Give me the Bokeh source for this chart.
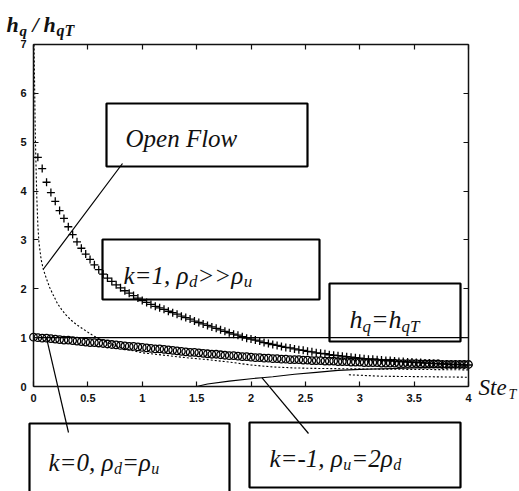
from bokeh.plotting import figure
from bokeh.models import (Range1d, LinearAxis, FixedTicker, NumeralTickFormatter,
                          CustomJSTickFormatter, BoxAnnotation, Label)
from bokeh.embed import file_html
from bokeh.resources import INLINE

# ---------------- data ----------------
plus_x = [0.04, 0.08, 0.12, 0.16, 0.20, 0.24, 0.28, 0.32, 0.36, 0.40,
          0.44, 0.48, 0.52, 0.56, 0.60, 0.64, 0.68, 0.72, 0.76, 0.80,
          0.84, 0.88, 0.92, 0.96, 1.00, 1.04, 1.08, 1.12, 1.16, 1.20,
          1.24, 1.28, 1.32, 1.36, 1.40, 1.44, 1.48, 1.52, 1.56, 1.60,
          1.64, 1.68, 1.72, 1.76, 1.80, 1.84, 1.88, 1.92, 1.96, 2.00,
          2.04, 2.08, 2.12, 2.16, 2.20, 2.24, 2.28, 2.32, 2.36, 2.40,
          2.44, 2.48, 2.52, 2.56, 2.60, 2.64, 2.68, 2.72, 2.76, 2.80,
          2.84, 2.88, 2.92, 2.96, 3.00, 3.04, 3.08, 3.12, 3.16, 3.20,
          3.24, 3.28, 3.32, 3.36, 3.40, 3.44, 3.48, 3.52, 3.56, 3.60,
          3.64, 3.68, 3.72, 3.76, 3.80, 3.84, 3.88, 3.92, 3.96, 4.00]
plus_y = [4.69, 4.46, 4.18, 3.97, 3.79, 3.60, 3.44, 3.27, 3.11, 2.96,
          2.83, 2.71, 2.60, 2.49, 2.39, 2.30, 2.22, 2.15, 2.08, 2.02,
          1.96, 1.91, 1.86, 1.81, 1.76, 1.72, 1.68, 1.64, 1.61, 1.58,
          1.54, 1.51, 1.48, 1.44, 1.41, 1.38, 1.34, 1.31, 1.28, 1.25,
          1.22, 1.19, 1.16, 1.13, 1.10, 1.07, 1.05, 1.02, 0.99, 0.97,
          0.95, 0.93, 0.90, 0.88, 0.86, 0.84, 0.82, 0.80, 0.79, 0.77,
          0.75, 0.74, 0.72, 0.71, 0.69, 0.68, 0.67, 0.65, 0.64, 0.63,
          0.62, 0.61, 0.60, 0.59, 0.58, 0.57, 0.56, 0.56, 0.55, 0.54,
          0.53, 0.53, 0.52, 0.51, 0.51, 0.50, 0.50, 0.49, 0.49, 0.48,
          0.48, 0.47, 0.47, 0.46, 0.46, 0.45, 0.45, 0.45, 0.44, 0.44]

circ_x = [0.00] + plus_x
circ_y = [1.01, 1.00, 0.99, 0.99, 0.98, 0.97, 0.96, 0.95, 0.95, 0.94, 0.93,
          0.92, 0.91, 0.90, 0.90, 0.89, 0.88, 0.87, 0.86, 0.85, 0.84,
          0.83, 0.82, 0.82, 0.81, 0.80, 0.79, 0.78, 0.77, 0.77, 0.76,
          0.75, 0.74, 0.73, 0.72, 0.71, 0.70, 0.70, 0.69, 0.68, 0.67,
          0.66, 0.66, 0.65, 0.64, 0.63, 0.63, 0.62, 0.61, 0.61, 0.60,
          0.59, 0.59, 0.58, 0.58, 0.57, 0.57, 0.56, 0.56, 0.55, 0.55,
          0.55, 0.54, 0.54, 0.53, 0.53, 0.53, 0.52, 0.52, 0.52, 0.51,
          0.51, 0.51, 0.50, 0.50, 0.50, 0.49, 0.49, 0.49, 0.49, 0.48,
          0.48, 0.48, 0.48, 0.47, 0.47, 0.47, 0.47, 0.47, 0.46, 0.46,
          0.46, 0.46, 0.46, 0.45, 0.45, 0.45, 0.45, 0.45, 0.45, 0.45]

flow_x = [0.005, 0.01, 0.015, 0.02, 0.03, 0.04, 0.05, 0.07, 0.09, 0.12, 0.15,
          0.18, 0.22, 0.26, 0.30, 0.35, 0.40, 0.48, 0.55, 0.60, 0.70, 0.80,
          0.90, 1.00, 1.20, 1.40, 1.60, 1.80, 2.00, 2.20, 2.40, 2.60, 3.00,
          3.50, 4.00]
flow_y = [7.00, 6.20, 5.40, 4.80, 3.90, 3.30, 2.95, 2.60, 2.40, 2.20, 2.02,
          1.88, 1.70, 1.57, 1.46, 1.35, 1.26, 1.14, 1.04, 0.98, 0.88, 0.80,
          0.74, 0.69, 0.64, 0.59, 0.55, 0.50, 0.44, 0.40, 0.38, 0.37, 0.36,
          0.35, 0.34]

low_x = [2.90, 3.20, 3.60, 4.00]
low_y = [0.24, 0.21, 0.20, 0.19]

neg_x = [1.50, 1.60, 1.80, 2.00, 2.10, 2.20, 2.40, 2.60, 2.80, 3.00, 3.50, 4.00]
neg_y = [0.00, 0.05, 0.11, 0.16, 0.18, 0.20, 0.25, 0.29, 0.33, 0.35, 0.38, 0.40]

ref_x = [0.0, 4.0]
ref_y = [1.0, 1.0]

x_ticks = [0, 0.5, 1, 1.5, 2, 2.5, 3, 3.5, 4]
y_ticks = [0, 1, 2, 3, 4, 5, 6, 7]

# ---------------- layout (reference pixel positions) ----------------
W, H = 519, 491
OFF = 0
X0_PX, X_PER = 33.0, 108.75
Y0_PX, Y_PER = 386.0, 48.86


def dx(px):
    return (px - X0_PX) / X_PER


def dy(py):
    return (Y0_PX - py) / Y_PER


p = figure(width=W, height=H,
           x_range=Range1d(dx(OFF), dx(OFF + W)),
           y_range=Range1d(dy(OFF + H), dy(OFF)),
           output_backend="svg", toolbar_location=None,
           x_axis_location=None, y_axis_location=None,
           min_border=0, outline_line_color=None,
           background_fill_color="white", border_fill_color="white")
p.xgrid.visible = False
p.ygrid.visible = False

TICK_FONT = "Liberation Sans"


def add_axis(ticks, loc, bounds, side, labels):
    ax = LinearAxis(ticker=FixedTicker(ticks=ticks), fixed_location=loc, bounds=bounds,
                    major_tick_in=5, major_tick_out=0,
                    minor_tick_line_color=None,
                    axis_line_width=1.5, axis_line_color="#111111",
                    major_tick_line_width=1.2, major_tick_line_color="#111111",
                    major_label_text_font=TICK_FONT,
                    major_label_text_font_size="11px",
                    major_label_text_font_style="bold",
                    major_label_text_color="#111111",
                    major_label_standoff=7)
    if labels:
        ax.formatter = NumeralTickFormatter(format="0.[0]")
    else:
        ax.formatter = CustomJSTickFormatter(code="return ''")
    p.add_layout(ax, side)


add_axis(x_ticks, 0, (0, 4), "below", True)
add_axis(y_ticks, 0, (0, 7), "left", True)
add_axis(x_ticks, 7, (0, 4), "above", False)
add_axis(y_ticks, 4, (0, 7), "right", False)

# curves
p.line(flow_x, flow_y, line_color="black", line_width=1.1, line_dash="2 2")
p.line(low_x, low_y, line_color="black", line_width=1.1, line_dash="2 2")
p.line(neg_x, neg_y, line_color="black", line_width=1.1)
p.line(ref_x, ref_y, line_color="black", line_width=1.3)
p.scatter(plus_x, plus_y, marker="cross", size=8, line_color="black", line_width=1.3)
p.scatter(circ_x, circ_y, marker="circle", size=7.5, fill_color=None,
          line_color="black", line_width=1.3)

# leader lines: from a point of each curve to its text box
p.segment(x0=[flow_x[8], circ_x[3], neg_x[4]],
          y0=[flow_y[8], circ_y[3], neg_y[4]],
          x1=[dx(122), dx(68), dx(308)],
          y1=[dy(163), dy(432), dy(433)],
          line_color="black", line_width=1.2)

# boxes
for l, t, r, b in [(106, 103, 307, 166), (102, 239, 319, 299), (329, 283, 460, 341),
                   (29, 423, 229, 500), (249, 422, 460, 487)]:
    p.add_layout(BoxAnnotation(left=dx(l), right=dx(r), top=dy(t), bottom=dy(b),
                               fill_color=None, fill_alpha=0,
                               line_color="black", line_alpha=1.0, line_width=2.2))

SERIF = "Liberation Serif"

# approximate advance widths (em) of Liberation Serif Italic, for placing subscripts
ADV = {"k": 0.444, "=": 0.675, "1": 0.5, ",": 0.25, " ": 0.25, "\u03c1": 0.5,
       ">": 0.675, "d": 0.5, "u": 0.5, "0": 0.5, "-": 0.333, "2": 0.5, "h": 0.5,
       "q": 0.5, "T": 0.556}


def lab(text, px, py, size, style="italic"):
    p.add_layout(Label(x=dx(px), y=dy(py), text=text, text_font=SERIF,
                       text_font_size=f"{size}px", text_font_style=style,
                       text_color="#111111", text_align="left",
                       text_baseline="alphabetic"))


def runs(px, py, parts):
    # parts: (text, font size, baseline drop)
    for text, size, drop in parts:
        lab(text, px, py + drop, size)
        px += sum(ADV.get(c, 0.5) for c in text) * size


# axis titles
lab("h", 6, 24, 22, "bold italic")
lab("q", 19, 30, 15, "bold italic")
lab("/", 32, 24, 22, "bold italic")
lab("h", 43, 24, 22, "bold italic")
lab("qT", 56, 30, 16, "bold italic")
lab("Ste", 478, 387, 23)
lab("T", 508, 394, 14)

# box texts
lab("Open Flow", 125, 138, 25)
runs(123, 275, [("k=1, \u03c1", 25, 0), ("d", 17, 6), (">>\u03c1", 25, 0), ("u", 17, 6)])
runs(349, 319, [("h", 26, 0), ("q", 17, 7), ("=h", 26, 0), ("qT", 17, 7)])
runs(48, 462, [("k=0, \u03c1", 25, 0), ("d", 16, 6), ("=\u03c1", 25, 0), ("u", 16, 6)])
runs(269, 458, [("k=-1, \u03c1", 25, 0), ("u", 16, 6), ("=2\u03c1", 25, 0), ("d", 16, 6)])

open("out.html", "w").write(file_html(p, INLINE))
